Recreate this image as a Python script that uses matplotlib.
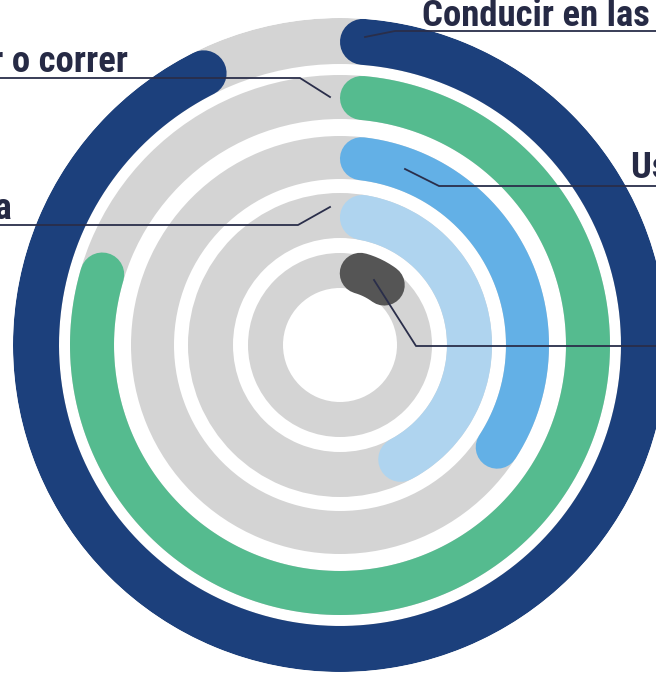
import numpy as np
import matplotlib
matplotlib.use("Agg")
import matplotlib.pyplot as plt
from matplotlib.lines import Line2D
from matplotlib import font_manager

# rings from outside to inside
labels = ["Conducir en las carreteras", "Caminar o correr", "Usar el teléfono", "Ir en bicicleta", "Otra"]
values = [93.8, 81.0, 36.0, 45.0, 14.5]   # percent of full circle
colors = ["#1c407c", "#55bb8f", "#63b0e6", "#afd4ef", "#555555"]

W, H = 656, 673
cx, cy = 340, 345          # centre in pixels (from top)
R = 327
ring_in = [281, 226, 166, 107, 57]
ring_out = [327, 270, 209, 152, 92]

have = {f.name for f in font_manager.fontManager.ttflist}
fam, fs = "Roboto", 23
for name, size in [("Roboto Condensed", 26.5), ("Liberation Sans Narrow", 27)]:
    if name in have:
        fam, fs = name, size
        break

fig = plt.figure(figsize=(W / 100, H / 100), dpi=100)
ax = fig.add_axes([(cx - R) / W, (H - cy - R) / H, 2 * R / W, 2 * R / H], projection="polar")
ax.set_theta_zero_location("N")
ax.set_theta_direction(-1)
ax.set_ylim(0, R)
ax.set_axis_off()

for i, v in enumerate(values):
    r0, r1 = ring_in[i], ring_out[i]
    ax.bar(0, r1 - r0, width=2 * np.pi, bottom=r0, color="#d4d4d4", linewidth=0)
    rm = (r0 + r1) / 2
    half = (r1 - r0) / 2
    if i == 4:
        half += 3   # the small one pokes out of its track a bit
    cap = half / rm
    end = v / 100 * 2 * np.pi
    th = np.linspace(cap, end - cap, 400)
    ax.plot(th, np.full_like(th, rm), color=colors[i], lw=2 * half * 0.72,
            solid_capstyle="round")

# leader lines, pixel coords (x, y from top)
lc = "#2a2e4a"
leaders = [
    [(365, 37), (395, 31), (660, 31)],
    [(330, 97), (300, 78), (-5, 78)],
    [(405, 169), (439, 186), (660, 186)],
    [(330, 207), (298, 225), (-5, 225)],
    [(374, 280), (416, 346), (660, 346)],
]
for pts in leaders:
    xs = [p[0] / W for p in pts]
    ys = [1 - p[1] / H for p in pts]
    fig.add_artist(Line2D(xs, ys, color=lc, lw=1.3, transform=fig.transFigure))

tk = dict(color="#262a45", fontsize=fs, fontweight="bold", family=fam)
fig.text(422 / W, 1 - 26 / H, labels[0], ha="left", va="baseline", **tk)
fig.text(128 / W, 1 - 72 / H, labels[1], ha="right", va="baseline", **tk)
fig.text(631 / W, 1 - 178 / H, labels[2], ha="left", va="baseline", **tk)
fig.text(12 / W, 1 - 219 / H, labels[3], ha="right", va="baseline", **tk)

fig.savefig("out.png", dpi=100)
